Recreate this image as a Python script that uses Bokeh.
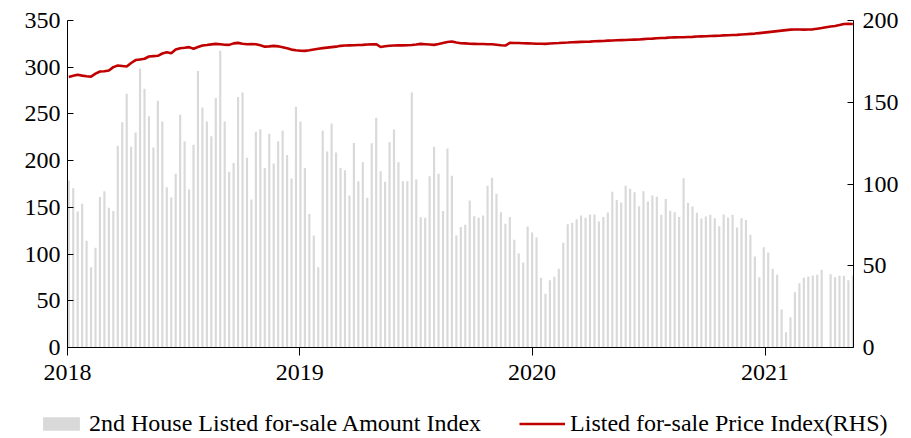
import numpy as np
import pandas as pd
from bokeh.plotting import figure
from bokeh.models import (Range1d, LinearAxis, FixedTicker, DatetimeTickFormatter,
                          Legend, LegendItem, ColumnDataSource)
from bokeh.embed import file_html
from bokeh.resources import INLINE

# ---------------- data ----------------
start_date = "2018-01-03"
n_weeks = 177
year_labels = ["2018", "2019", "2020", "2021"]

amount_index = [
    178.7, 170.5, 145.6, 153.8, 114.2, 86.0, 106.7, 161.0, 167.3, 149.5,
    146.0, 216.0, 241.0, 271.5, 215.0, 230.0, 298.6, 277.0, 247.6, 214.0,
    264.0, 242.0, 171.6, 160.5, 186.0, 249.0,
    220.5, 169.0, 217.0, 296.0, 257.0, 242.0, 226.0, 267.0, 317.5, 242.0,
    188.0, 197.6, 268.0, 273.0, 203.0, 158.4, 231.0, 233.7, 192.0, 228.7,
    197.0, 220.5, 232.0, 206.0, 181.0,
    257.6, 242.0, 192.0, 143.0, 120.0, 86.0, 232.0, 209.8, 239.7, 208.7,
    192.0, 189.8, 162.7, 219.0, 178.0, 198.4, 160.2, 218.7, 245.8, 188.7,
    177.3, 219.8, 233.3, 198.4, 178.0, 178.0,
    273.0, 179.8, 139.5, 139.0, 183.4, 215.0, 186.0, 146.0, 213.0, 183.7,
    120.0, 129.0, 131.3, 157.3, 140.6, 139.0, 141.3, 173.0, 181.6, 164.5,
    144.8, 132.4, 139.8, 115.2, 100.6, 91.0,
    129.5, 123.0, 117.7, 74.6, 57.4, 72.0, 75.6, 84.2, 112.0, 132.0,
    133.4, 137.4, 141.3, 138.8, 142.3, 142.3, 134.9, 139.8, 144.5, 166.6,
    158.0, 155.2, 173.0, 169.8, 166.2, 151.3,
    167.3, 156.3, 162.7, 161.3, 142.0, 159.0, 146.3, 144.8, 139.8, 181.2,
    154.8, 150.9, 144.1, 138.0, 140.2, 142.0, 138.4, 129.9, 142.3, 139.1,
    142.0, 128.4, 138.4, 136.6, 120.6,
    97.4, 75.3, 107.4, 101.7, 84.2, 77.8, 40.7, 16.4, 32.5, 59.2,
    68.9, 74.6, 76.0, 77.0, 77.8, 83.1, float("nan"), 78.5, 75.3, 76.7,
    76.7, 72.0, 77.0,
]

price_index = [
    165.5, 166.2, 166.8, 166.3, 165.9, 165.7, 167.5, 168.8, 169.0, 169.4,
    171.5, 172.5, 172.2, 171.9, 174.0, 175.8, 176.2, 176.6, 178.0, 178.2,
    178.4, 179.8, 180.6, 180.0, 182.2, 183.0, 183.3, 183.7, 182.7, 183.8,
    184.7, 185.0, 185.4, 185.7, 185.5, 185.2, 185.1, 186.0, 186.3, 185.8,
    185.5, 185.6, 185.5, 184.8, 184.0, 184.2, 184.5, 184.2, 183.6, 183.0,
    182.2, 181.8, 181.5, 181.4, 181.8, 182.3, 182.7, 183.1, 183.4, 183.7,
    184.0, 184.5, 184.7, 184.8, 184.9, 185.0, 185.1, 185.3, 185.4, 185.5,
    183.8, 184.2, 184.6, 184.7, 184.8, 184.8, 184.9, 185.0, 185.3, 185.7,
    185.5, 185.3, 185.1, 185.6, 186.2, 186.8, 187.2, 186.5, 186.1, 186.0,
    185.8, 185.7, 185.6, 185.6, 185.5, 185.5, 185.2, 184.9, 184.7, 186.3,
    186.2, 186.2, 186.1, 186.0, 185.9, 185.8, 185.8, 185.7, 185.9, 186.1,
    186.2, 186.4, 186.5, 186.7, 186.8, 186.9, 187.0, 187.1, 187.3, 187.4,
    187.5, 187.7, 187.8, 187.9, 188.0, 188.1, 188.2, 188.3, 188.4, 188.6,
    188.8, 188.9, 189.1, 189.3, 189.4, 189.6, 189.7, 189.8, 189.8, 189.9,
    190.0, 190.2, 190.3, 190.4, 190.5, 190.6, 190.7, 190.9, 191.0, 191.1,
    191.2, 191.4, 191.6, 191.8, 192.0, 192.3, 192.6, 192.9, 193.2, 193.5,
    193.8, 194.1, 194.4, 194.5, 194.5, 194.4, 194.5, 194.6, 195.0, 195.4,
    195.9, 196.3, 196.6, 197.2, 197.9, 198.0, 197.9,
]

left_ticks = [0, 50, 100, 150, 200, 250, 300, 350]
right_ticks = [0, 50, 100, 150, 200]
series_labels = ["2nd House Listed for-sale Amount Index",
                 "Listed for-sale Price Index(RHS)"]

# ---------------- build ----------------
dates = pd.date_range(start_date, periods=n_weeks, freq="7D")
src = ColumnDataSource(dict(date=dates, amount=amount_index, price=price_index))

FONT = "Liberation Serif"
FS = "24px"
BAR_COLOR = "#d9d9d9"
LINE_COLOR = "#c00000"
LINE_W = 2.6

x_start = pd.Timestamp("2018-01-01")
x_end = dates[-1] + pd.Timedelta(days=1)

p = figure(width=911, height=400, x_axis_type="datetime",
           output_backend="svg", toolbar_location=None,
           x_range=Range1d(x_start, x_end), y_range=Range1d(0, 350),
           min_border_left=67, min_border_right=58, min_border_top=20,
           min_border_bottom=53)
p.extra_y_ranges = {"rhs": Range1d(0, 200)}
p.outline_line_color = None
p.xgrid.visible = False
p.ygrid.visible = False

bar_w = 3.4 * 24 * 3600 * 1000
p.vbar(x="date", top="amount", width=bar_w, bottom=0, source=src,
       fill_color=BAR_COLOR, line_color=None)
p.line(x="date", y="price", source=src, line_color=LINE_COLOR,
       line_width=LINE_W, y_range_name="rhs")

# x axis
year_ticks = [pd.Timestamp(f"{y}-01-01").value / 1e6 for y in year_labels]
xa = p.xaxis[0]
xa.ticker = FixedTicker(ticks=year_ticks)
xa.formatter = DatetimeTickFormatter(years="%Y", months="%Y", days="%Y",
                                     hours="%Y", minutes="%Y")
xa.major_tick_in = 0
xa.major_tick_out = 8
xa.minor_tick_out = 0
xa.minor_tick_in = 0
xa.major_label_standoff = 9

# left axis
ya = p.yaxis[0]
ya.ticker = FixedTicker(ticks=left_ticks)
ya.major_tick_in = 6
ya.major_tick_out = 0
ya.minor_tick_in = 0
ya.minor_tick_out = 0
ya.major_label_standoff = 7

# right axis
ra = LinearAxis(y_range_name="rhs", ticker=FixedTicker(ticks=right_ticks))
ra.major_tick_in = 6
ra.major_tick_out = 0
ra.minor_tick_in = 0
ra.minor_tick_out = 0
ra.major_label_standoff = 9
p.add_layout(ra, "right")

for ax in (xa, ya, ra):
    ax.axis_line_color = "black"
    ax.axis_line_width = 1
    ax.major_tick_line_color = "black"
    ax.major_label_text_font = FONT
    ax.major_label_text_font_size = FS
    ax.major_label_text_color = "black"

# ---------------- legend strip (separate root, no frame alignment) ----------------
lg = figure(width=911, height=38, output_backend="svg", toolbar_location=None,
            x_range=Range1d(0, 1), y_range=Range1d(-10, -5),
            x_axis_location=None, y_axis_location=None,
            min_border_left=0, min_border_right=0, min_border_top=0,
            min_border_bottom=0)
lg.grid.visible = False
lg.outline_line_color = None
# legend keys: same series, drawn outside this strip's (empty) view
lsrc = ColumnDataSource(dict(x=[2.0], amount=[amount_index[0]], price=[price_index[0]]))
lb = lg.vbar(x="x", top="amount", width=0.1, bottom=0, source=lsrc,
             fill_color=BAR_COLOR, line_color=None)
ll = lg.line(x="x", y="price", source=lsrc, line_color=LINE_COLOR, line_width=LINE_W)

legend = Legend(items=[
    LegendItem(label=series_labels[0], renderers=[lb]),
    LegendItem(label=series_labels[1], renderers=[ll]),
], orientation="horizontal", location=(38, 1),
   border_line_color=None, background_fill_alpha=0,
   label_text_font=FONT, label_text_font_size=FS, label_text_color="black",
   glyph_width=46, glyph_height=17, spacing=38, label_standoff=5,
   padding=0, margin=0)
lg.add_layout(legend, "center")

open("out.html", "w").write(file_html([p, lg], INLINE))
